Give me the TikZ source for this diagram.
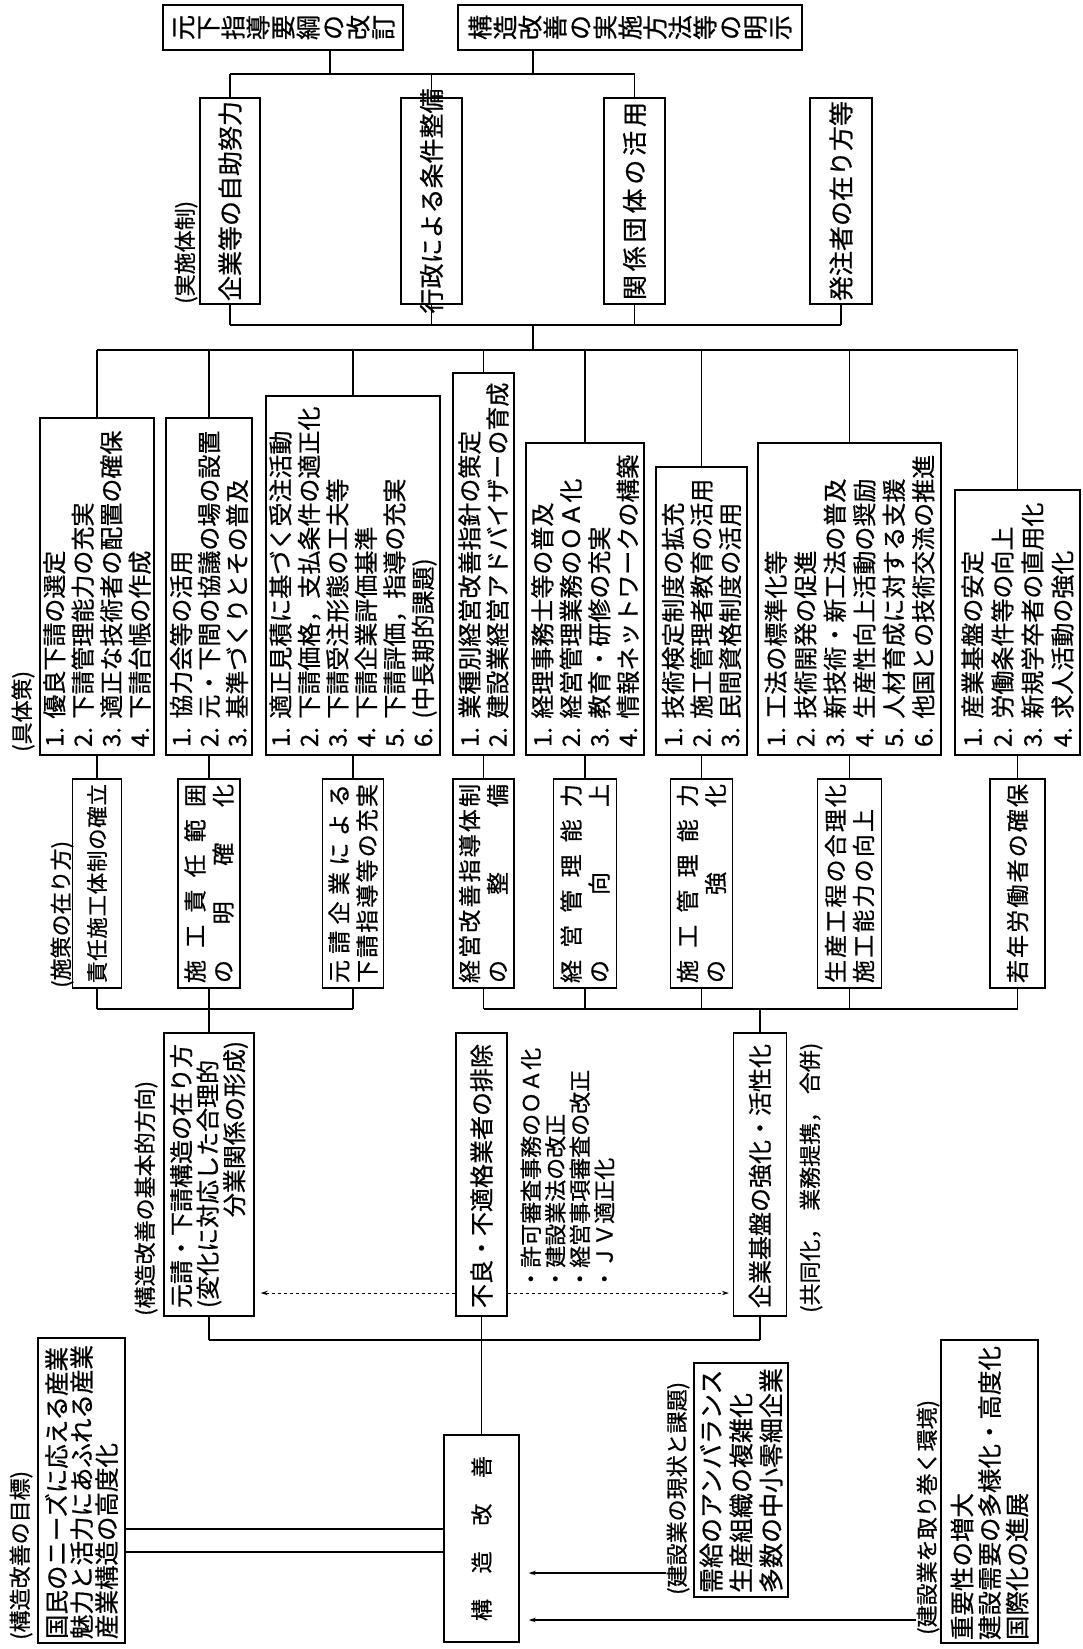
\documentclass[tikz,border=0pt]{standalone}
\usepackage{fontspec}
\usepackage{graphicx}
\setmainfont{Noto Sans CJK JP}[FakeBold=0.7]
\usetikzlibrary{arrows.meta}
\setlength{\parindent}{0pt}
\newcommand\fs[2]{\fontsize{#1}{#2}\selectfont}
% characters of vertical original text, each turned on its side
\newcommand\rvchars[1]{\rvloop#1\relax}
\def\rvloop#1{\ifx#1\relax\else\rotatebox{90}{\makebox[1em]{\rule[-0.12em]{0pt}{1em}#1}}\expandafter\rvloop\fi}
% spread characters over a width
\newcommand\spr[2]{\makebox[#1]{\sprA#2\relax}}
\def\sprA#1{#1\sprB}
\def\sprB#1{\ifx#1\relax\else\hfill#1\expandafter\sprB\fi}
\newcommand\nm[1]{#1.\hspace{0.35em}}
\tikzset{
  bx/.style={draw, line width=1.4pt, rotate=90, inner sep=0pt, align=left},
  tb/.style={draw, line width=1.4pt, inner sep=0pt, minimum height=45pt},
  lab/.style={rotate=90, anchor=west, inner sep=0pt, font=\fs{22}{26}},
  ln/.style={line width=1.3pt},
  dar/.style={line width=1pt, dash pattern=on 3pt off 3pt, -{Stealth[length=7pt,width=4.5pt]}},
  sar/.style={line width=1.3pt, -{Stealth[length=7pt,width=4.5pt]}, shorten >=9pt},
}
\begin{document}
\begin{tikzpicture}[x=1pt,y=-1pt]
\fill[white] (0,0) rectangle (1083,1649);
\useasboundingbox (0,0) rectangle (1083,1649);

% ---------- top boxes
\node[tb, minimum width=240pt, font=\fs{25}{25}] (A) at (283,27.5) {\rvchars{元下指導要綱の改訂}};
\node[tb, minimum width=344pt, font=\fs{25}{25}] (B) at (630,27.5) {\rvchars{構造改善の実施方法等の明示}};

% ---------- implementation (実施体制)
\node[lab] (LJ) at (186,304) {(実施体制)};
\node[bx, minimum width=206pt, minimum height=60pt, text width=198pt, font=\fs{25}{28}] (J1) at (230,201) {\spr{\hsize}{企業等の自助努力}};
\node[bx, minimum width=206pt, minimum height=61pt, text width=198pt, font=\fs{25}{28}] (J2) at (431.5,201) {\spr{\hsize}{行政による条件整備}};
\node[bx, minimum width=206pt, minimum height=61pt, text width=198pt, font=\fs{25}{28}] (J3) at (634.5,201) {\spr{\hsize}{関係団体の活用}};
\node[bx, minimum width=206pt, minimum height=62pt, text width=198pt, font=\fs{25}{28}] (J4) at (841,201) {\spr{\hsize}{発注者の在り方等}};

% ---------- concrete measures (具体策)
\node[lab] (LK) at (23,752) {(具体策)};
\node[bx, minimum width=337pt, minimum height=114pt, text width=321pt, font=\fs{24}{28.5}] (k1) at (97,586.5)
 {\nm{1}優良下請の選定\\\nm{2}下請管理能力の充実\\\nm{3}適正な技術者の配置の確保\\\nm{4}下請台帳の作成};
\node[bx, minimum width=337pt, minimum height=86pt, text width=321pt, font=\fs{24}{28}] (k2) at (209,586.5)
 {\nm{1}協力会等の活用\\\nm{2}元・下間の協議の場の設置\\\nm{3}基準づくりとその普及};
\node[bx, minimum width=359pt, minimum height=174pt, text width=343pt, font=\fs{24}{28.5}] (k3) at (353,575.5)
 {\nm{1}適正見積に基づく受注活動\\\nm{2}下請価格，支払条件の適正化\\\nm{3}下請受注形態の工夫等\\\nm{4}下請企業評価基準\\\nm{5}下請評価，指導の充実\\\nm{6}(中長期的課題)};
\node[bx, minimum width=382pt, minimum height=61pt, text width=366pt, font=\fs{24}{28}] (k4) at (483.5,564)
 {\nm{1}業種別経営改善指針の策定\\\nm{2}建設業経営アドバイザーの育成};
\node[bx, minimum width=312pt, minimum height=118pt, text width=296pt, font=\fs{24}{28.5}] (k5) at (585,599)
 {\nm{1}経理事務士等の普及\\\nm{2}経営管理業務のＯＡ化\\\nm{3}教育・研修の充実\\\nm{4}情報ネットワークの構築};
\node[bx, minimum width=288pt, minimum height=91pt, text width=272pt, font=\fs{24}{28.5}] (k6) at (701.5,611)
 {\nm{1}技術検定制度の拡充\\\nm{2}施工管理者教育の活用\\\nm{3}民間資格制度の活用};
\node[bx, minimum width=312pt, minimum height=183pt, text width=296pt, font=\fs{24}{29.5}] (k7) at (849.5,599)
 {\nm{1}工法の標準化等\\\nm{2}技術開発の促進\\\nm{3}新技術・新工法の普及\\\nm{4}生産性向上活動の奨励\\\nm{5}人材育成に対する支援\\\nm{6}他国との技術交流の推進};
\node[bx, minimum width=265pt, minimum height=125pt, text width=249pt, font=\fs{24}{30}] (k8) at (1017.5,622.5)
 {\nm{1}産業基盤の安定\\\nm{2}労働条件等の向上\\\nm{3}新規学卒者の直用化\\\nm{4}求人活動の強化};

% ---------- policies (施策の在り方)
\node[lab] (LS) at (62,988) {(施策の在り方)};
\node[bx, minimum width=209pt, minimum height=49pt, text width=199pt, font=\fs{21.5}{28}] (s1) at (97,883.5) {\spr{\hsize}{責任施工体制の確立}};
\node[bx, minimum width=209pt, minimum height=62pt, text width=199pt, font=\fs{23}{28}] (s2) at (209,883.5) {\spr{\hsize}{施工責任範囲}\\\spr{\hsize}{の明確化}};
\node[bx, minimum width=209pt, minimum height=61pt, text width=199pt, font=\fs{23}{28}] (s3) at (353,883.5) {\spr{\hsize}{元請企業による}\\\spr{\hsize}{下請指導等の充実}};
\node[bx, minimum width=209pt, minimum height=61pt, text width=199pt, font=\fs{23}{28}] (s4) at (483.5,883.5) {\spr{\hsize}{経営改善指導体制}\\\spr{\hsize}{の整備}};
\node[bx, minimum width=209pt, minimum height=63pt, text width=199pt, font=\fs{23}{28}] (s5) at (585,883.5) {\spr{\hsize}{経営管理能力}\\\spr{\hsize}{の向上}};
\node[bx, minimum width=209pt, minimum height=62pt, text width=199pt, font=\fs{23}{28}] (s6) at (701.5,883.5) {\spr{\hsize}{施工管理能力}\\\spr{\hsize}{の強化}};
\node[bx, minimum width=209pt, minimum height=64pt, text width=199pt, font=\fs{23}{28}] (s7) at (849.5,883.5) {\spr{\hsize}{生産工程の合理化}\\\spr{174pt}{施工能力の向上}};
\node[bx, minimum width=209pt, minimum height=55pt, text width=199pt, font=\fs{23}{28}] (s8) at (1017.5,883.5) {\spr{\hsize}{若年労働者の確保}};

% ---------- basic direction (構造改善の基本的方向)
\node[lab] (LB) at (146,1316) {(構造改善の基本的方向)};
\node[bx, minimum width=283pt, minimum height=90pt, text width=267pt, font=\fs{24}{26.5}] (b1) at (209,1174.5)
 {元請・下請構造の在り方\\(変化に対応した合理的\\\makebox[\hsize][r]{分業関係の形成)}};
\node[bx, minimum width=283pt, minimum height=51pt, text width=267pt, font=\fs{24}{28}] (b2) at (481.5,1174.5) {不良・不適格業者の排除};
\node[bx, minimum width=283pt, minimum height=53pt, text width=267pt, font=\fs{24}{28}] (b3) at (760,1174.5) {企業基盤の強化・活性化};
\node[rotate=90, anchor=west, inner sep=0pt, align=left, font=\fs{22}{24.5}] (BL) at (567.5,1290)
 {・許可審査事務のＯＡ化\\・建設業法の改正\\・経営事項審査の改正\\・ＪＶ適正化};
\node[lab] (LC) at (811,1313) {(共同化，\hspace{0.3em}業務提携，\hspace{0.3em}合併)};

% ---------- bottom row
\node[bx, minimum width=207pt, minimum height=75pt, text width=165pt, font=\fs{22}{26}] (K) at (481.5,1538.5) {\spr{\hsize}{構造改善}};
\node[lab] (LM) at (21,1640) {(構造改善の目標)};
\node[bx, minimum width=305pt, minimum height=87pt, text width=297pt, font=\fs{24.5}{25}] (M) at (81.5,1490.5)
 {国民のニーズに応える産業\\魅力と活力にあふれる産業\\産業構造の高度化};
\node[lab] (LG) at (678,1595) {(建設業の現状と課題)};
\node[bx, minimum width=234pt, minimum height=94pt, text width=226pt, font=\fs{25}{30}] (G) at (741,1480)
 {需給のアンバランス\\生産組織の複雑化\\多数の中小零細企業};
\node[lab] (LE) at (928,1635) {(建設業を取り巻く環境)};
\node[bx, minimum width=303pt, minimum height=97pt, text width=297pt, font=\fs{24.5}{27.5}] (E) at (989.5,1491.5)
 {重要性の増大\\建設需要の多様化・高度化\\国際化の進展};

% ---------- connectors
\coordinate (p1a) at (230,74); \coordinate (p1b) at (634.5,74);
\coordinate (pa) at (330,74); \coordinate (pb) at (533,74);
\draw[ln] (p1a) -- (p1b);
\draw[ln] (pa) -- (pa |- A.south);
\draw[ln] (pb) -- (pb |- B.south);
\foreach \n in {J1,J2,J3} \draw[ln] (\n) -- (\n |- p1a);

\coordinate (p2a) at (230,325); \coordinate (p2b) at (841,325);
\coordinate (p2c) at (533,325); \coordinate (p3c) at (533,350);
\draw[ln] (p2a) -- (p2b);
\foreach \n in {J1,J2,J3,J4} \draw[ln] (\n) -- (\n |- p2a);
\draw[ln] (p2c) -- (p3c);

\coordinate (p3a) at (97,350); \coordinate (p3b) at (1017.5,350);
\draw[ln] (p3a) -- (p3b);
\foreach \n in {k1,k2,k3,k4,k5,k6,k7,k8} \draw[ln] (\n) -- (\n |- p3a);
\foreach \i in {1,...,8} \draw[ln] (k\i) -- (s\i);

\coordinate (p4a) at (97,1009); \coordinate (p4b) at (353,1009);
\coordinate (p4c) at (483.5,1009); \coordinate (p4d) at (1017.5,1009);
\draw[ln] (p4a) -- (p4b);
\draw[ln] (p4c) -- (p4d);
\foreach \n in {s1,s2,s3,s4,s5,s6,s7,s8,b1,b3} \draw[ln] (\n) -- (\n |- p4a);

\coordinate (p5a) at (209,1340); \coordinate (p5b) at (760,1340);
\draw[ln] (p5a) -- (p5b);
\draw[ln] (b1) -- (b1 |- p5a);
\draw[ln] (b3) -- (b3 |- p5a);
\draw[ln] (b2) -- (K);

\coordinate (dy) at (0,1293);
\draw[dar, shorten >=6pt] (b2.north |- dy) -- (b1.south |- dy);
\draw[dar, shorten >=4pt] (b2.south |- dy) -- (b3.north |- dy);

\coordinate (m1) at (0,1529); \coordinate (m2) at (0,1552);
\draw[ln] (M.south |- m1) -- (K.north |- m1);
\draw[ln] (M.south |- m2) -- (K.north |- m2);

\coordinate (g1) at (0,1573); \coordinate (e1) at (0,1620);
\draw[sar] (LG.north |- g1) -- (K.south |- g1);
\draw[sar] (LE.north |- e1) -- (K.south |- e1);
\end{tikzpicture}
\end{document}
